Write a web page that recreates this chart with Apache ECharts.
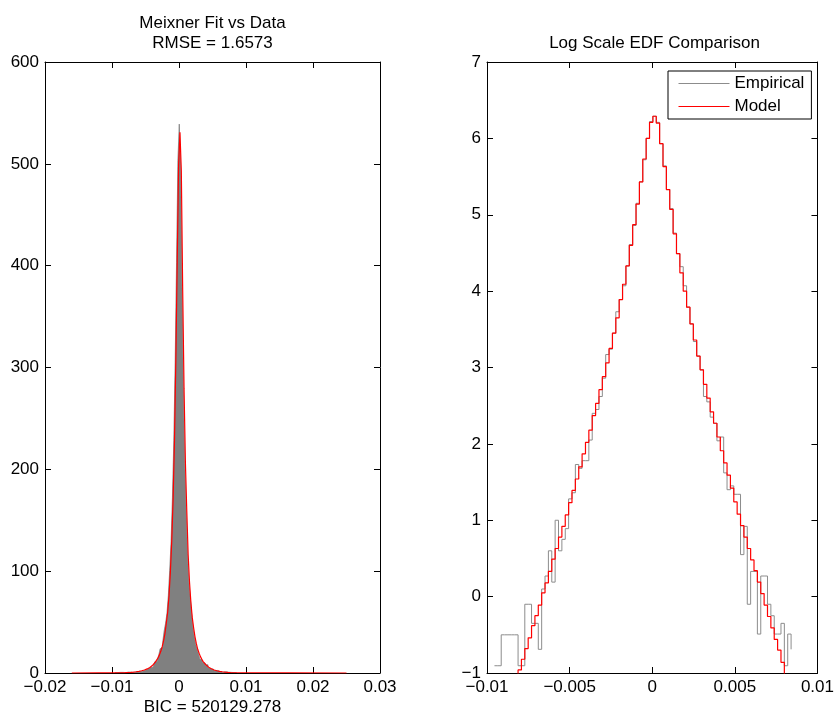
<!DOCTYPE html>
<html><head><meta charset="utf-8">
<script src="https://cdn.jsdelivr.net/npm/echarts@6/dist/echarts.min.js"></script>
<style>html,body{margin:0;padding:0;background:#fff}#c{width:837px;height:718px}</style>
</head><body><div id="c"></div>
<script>
// ---------------- data ----------------
const BIN_WIDTH = 0.000204;        // histogram bin width
const BIN_ZERO_EDGE = 0.00004;     // left edge of bin index 0

// Right panel: log density, empirical (bins -47 .. 41)
const EMP_FIRST_BIN = -47;
const empiricalLog = [
  -0.905,-0.905,-0.50,-0.50,-0.50,-0.50,-0.50,-0.905,-0.905,-0.10,
  -0.10,-0.35,-0.35,-0.69,0.10,0.27,0.60,0.19,1.00,0.60,
  0.75,0.89,1.28,1.36,1.73,1.68,1.78,1.78,2.05,2.40,
  2.45,2.62,2.86,3.17,3.24,3.45,3.73,3.89,4.07,4.33,
  4.61,4.86,5.15,5.43,5.72,6.00,6.22,6.29,6.21,5.93,
  5.64,5.33,5.08,4.76,4.49,4.32,4.07,3.79,3.57,3.34,
  3.15,2.97,2.62,2.55,2.35,2.27,2.04,2.09,1.62,1.40,
  1.45,1.34,1.34,0.55,0.92,-0.10,0.33,0.33,-0.49,0.27,
  0.27,-0.10,-0.25,-0.49,-0.49,-0.35,-0.905,-0.49,-0.69
];

// Right panel: log density, model (bins -41 .. 39)
const MODEL_FIRST_BIN = -41;
const modelLog = [
  -1.10,
  -0.96,-0.82,-0.68,-0.54,-0.38,-0.25,-0.11,0.05,0.18,0.33,
  0.49,0.63,0.78,0.92,1.07,1.23,1.39,1.54,1.70,1.87,
  2.02,2.18,2.37,2.53,2.71,2.88,3.06,3.25,3.45,3.65,
  3.89,4.09,4.33,4.60,4.87,5.14,5.43,5.73,6.00,6.21,
  6.29,6.20,5.93,5.63,5.33,5.07,4.75,4.49,4.24,4.00,
  3.79,3.57,3.36,3.15,2.97,2.78,2.60,2.42,2.27,2.09,
  1.91,1.75,1.59,1.42,1.24,1.08,0.93,0.78,0.63,0.48,
  0.34,0.19,0.04,-0.11,-0.26,-0.41,-0.56,-0.70,-0.86,-1.10
];

// Left panel: histogram density (bins -47 .. 41)
const HIST_FIRST_BIN = -47;
const histDensity = [
  0.40,0.40,0.61,0.61,0.61,0.61,0.61,0.40,0.40,0.90,
  0.90,0.70,0.70,0.50,1.1,1.3,1.8,1.2,2.7,1.8,
  2.1,2.4,3.6,3.9,5.6,5.4,5.9,5.9,7.8,11.0,
  11.6,13.7,17.5,23.8,25.5,31.5,41.7,48.9,58.6,75.9,
  100.5,129,172,228,305,403,503,539,498,376,
  281,206,161,117,89.1,75.2,58.6,44.3,35.5,28.2,
  23.3,19.5,13.7,12.8,10.5,9.7,7.7,8.1,5.1,4.1,
  4.3,3.8,3.8,1.7,2.5,0.90,1.4,1.4,0.61,1.3,
  1.3,0.90,0.78,0.61,0.61,0.70,0.40,0.61,0.50
];

// Left panel: fitted Meixner density at bin centres (bins -40 .. 38)
const FIT_FIRST_BIN = -40;
const fitDensity = [
  0.38,0.44,0.51,0.58,0.68,0.78,0.90,1.05,1.20,1.39,
  1.63,1.88,2.18,2.51,2.92,3.42,4.01,4.66,5.47,6.49,
  7.54,8.85,10.7,12.6,15.0,17.8,21.3,25.8,31.5,38.5,
  48.9,59.7,75.9,99.5,130,171,228,308,403,498,
  531,493,376,279,206,159,116,89.1,69.4,54.6,
  44.3,35.5,28.8,23.3,19.5,16.1,13.5,11.2,9.68,8.08,
  6.75,5.75,4.90,4.14,3.46,2.94,2.53,2.18,1.88,1.62,
  1.40,1.21,1.04,0.90,0.77,0.66,0.57,0.50,0.42
];
// fitted density far tails
const fitTailX = [-0.016, 0.025];
const fitTailY = [0.02, 0.02];

// tick labels
const leftXLabels  = ['\u22120.02','\u22120.01','0','0.01','0.02','0.03'];
const leftYLabels  = ['0','100','200','300','400','500','600'];
const rightXLabels = ['\u22120.01','\u22120.005','0','0.005','0.01'];
const rightYLabels = ['\u22121','0','1','2','3','4','5','6','7'];

// texts
const leftTitle1 = 'Meixner Fit vs Data';
const leftTitle2 = 'RMSE = 1.6573';
const leftXName  = 'BIC = 520129.278';
const rightTitle = 'Log Scale EDF Comparison';

// ---------------- build ----------------
const edge = k => BIN_ZERO_EDGE + k * BIN_WIDTH;

const histData = histDensity.map((v, i) => [edge(HIST_FIRST_BIN + i), v]);
histData.push([edge(HIST_FIRST_BIN + histDensity.length), histDensity[histDensity.length - 1]]);

const fitData = fitDensity.map((v, i) => [edge(FIT_FIRST_BIN + i) + BIN_WIDTH / 2, v]);
fitData.unshift([fitTailX[0], fitTailY[0]]);
fitData.push([fitTailX[1], fitTailY[1]]);

const empData = empiricalLog.map((v, i) => [edge(EMP_FIRST_BIN + i), v]);
const modData = modelLog.map((v, i) => [edge(MODEL_FIRST_BIN + i), v]);

const FONT = '"Liberation Sans", Arial, Helvetica, sans-serif';
const TXT = { fontSize: 17, fontFamily: FONT, color: '#000' };

function ax(gi, pos, min, max, interval, labels) {
  return {
    type: 'value', gridIndex: gi, position: pos, min, max, interval,
    axisLine: { show: true, onZero: false, lineStyle: { color: '#000', width: 1 } },
    axisTick: { show: true, inside: true, length: 6, lineStyle: { color: '#000', width: 1 } },
    splitLine: { show: false },
    axisLabel: labels ? Object.assign({ show: true, margin: 6, showMinLabel: true, showMaxLabel: true,
      formatter: (v, i) => labels[i] }, TXT) : { show: false }
  };
}

const chart = echarts.init(document.getElementById('c'), null, { renderer: 'canvas' });
chart.setOption({
  backgroundColor: '#fff',
  animation: false,
  grid: [
    { left: 45, top: 62, width: 335, height: 611, containLabel: false },
    { left: 487, top: 62, width: 335, height: 611, containLabel: false }
  ],
  xAxis: [
    ax(0, 'bottom', -0.02, 0.03, 0.01, leftXLabels),
    ax(0, 'top', -0.02, 0.03, 0.01, null),
    ax(1, 'bottom', -0.01, 0.01, 0.005, rightXLabels),
    ax(1, 'top', -0.01, 0.01, 0.005, null)
  ],
  yAxis: [
    ax(0, 'left', 0, 600, 100, leftYLabels),
    ax(0, 'right', 0, 600, 100, null),
    ax(1, 'left', -1, 7, 1, rightYLabels),
    ax(1, 'right', -1, 7, 1, null)
  ],
  legend: {
    data: ['Empirical', 'Model'],
    orient: 'vertical', left: 668, top: 71,
    backgroundColor: '#fff', borderColor: '#000', borderWidth: 1, borderRadius: 0,
    padding: [4, 7, 4, 10], itemWidth: 51, itemHeight: 14, itemGap: 6,
    itemStyle: { opacity: 0, borderWidth: 0 },
    lineStyle: { width: 1 },
    textStyle: TXT
  },
  graphic: [
    { type: 'text', x: 212.5, y: 23, style: { text: leftTitle1, align: 'center', verticalAlign: 'middle', font: '17px ' + FONT, fill: '#000' } },
    { type: 'text', x: 212.5, y: 43, style: { text: leftTitle2, align: 'center', verticalAlign: 'middle', font: '17px ' + FONT, fill: '#000' } },
    { type: 'text', x: 654.5, y: 43, style: { text: rightTitle, align: 'center', verticalAlign: 'middle', font: '17px ' + FONT, fill: '#000' } },
    { type: 'text', x: 212.5, y: 707, style: { text: leftXName, align: 'center', verticalAlign: 'middle', font: '17px ' + FONT, fill: '#000' } }
  ],
  series: [
    {
      name: 'Histogram', type: 'line', xAxisIndex: 0, yAxisIndex: 0, step: 'end',
      data: histData, symbol: 'none', silent: true,
      lineStyle: { color: '#808080', width: 0.8 },
      areaStyle: { color: '#808080', opacity: 1 }
    },
    {
      name: 'Fit', type: 'line', xAxisIndex: 0, yAxisIndex: 0,
      data: fitData, symbol: 'none', silent: true,
      lineStyle: { color: '#ff0000', width: 1.2 }
    },
    {
      name: 'Empirical', type: 'line', xAxisIndex: 2, yAxisIndex: 2, step: 'end',
      data: empData, symbol: 'none', clip: true,
      itemStyle: { color: '#8c8c8c' },
      lineStyle: { color: '#8c8c8c', width: 1 }
    },
    {
      name: 'Model', type: 'line', xAxisIndex: 2, yAxisIndex: 2, step: 'end',
      data: modData, symbol: 'none', clip: true,
      itemStyle: { color: '#ff0000' },
      lineStyle: { color: '#ff0000', width: 1.2 }
    }
  ]
});
</script>
</body></html>
